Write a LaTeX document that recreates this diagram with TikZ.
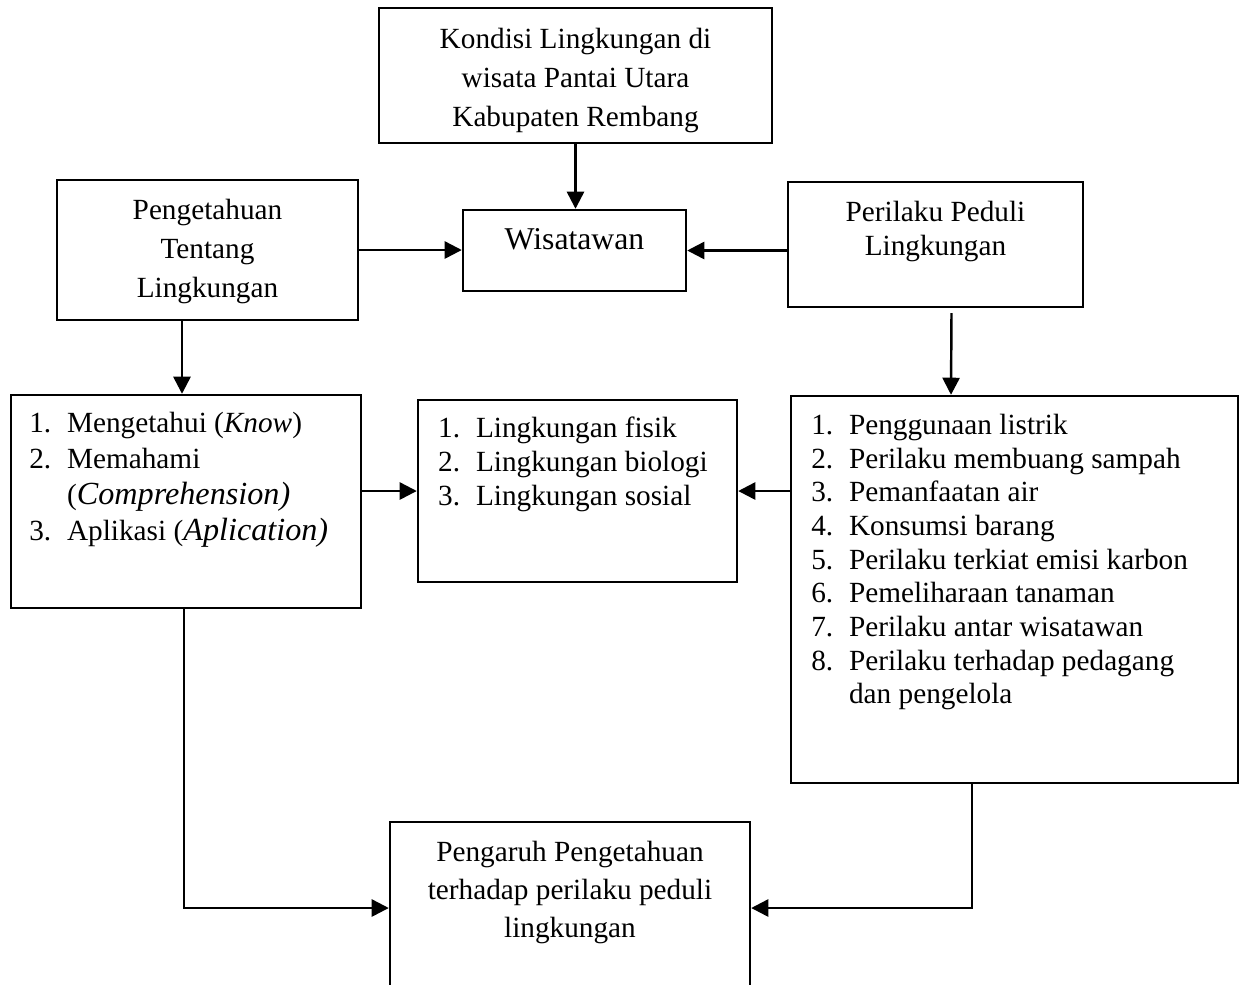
\documentclass[tikz,border=0pt]{standalone}
\usepackage{fontspec}
\setmainfont{Liberation Serif}
\usetikzlibrary{positioning,arrows.meta}

\newcommand{\numline}[2]{\makebox[15.5pt][l]{#1}#2}
\newcommand{\bigit}[1]{{\fontsize{13.2}{13.8}\selectfont\itshape #1}}

\tikzset{
    box/.style 2 args={draw, line width=1pt, inner sep=0pt,
        minimum width=#1*0.41pt, minimum height=#2*0.41pt},
    txt/.style={inner sep=0pt, align=center, font={\fontsize{12}{16}\selectfont}},
    lst/.style={inner sep=0pt, align=left, anchor=north west, font={\fontsize{12}{13.8}\selectfont}},
    arr/.style={line width=1pt, -{Triangle[length=7pt, width=7pt]}}
}

\begin{document}
\begin{tikzpicture}[x=0.41pt, y=-0.41pt]
    \useasboundingbox (0,0) rectangle (1239,984);
    \clip (0,0) rectangle (1239,984);

    % Boxes
    \node[box={393}{135}] (kondisi) at (575.5,75.5) {};
    \node[box={223}{81}] (wisatawan) at (574.5,250.5) {};
    \node[box={301}{140}] (pengetahuan) at (207.5,250) {};
    \node[box={295}{125}] (perilaku) at (935.5,244.5) {};
    \node[box={350}{213}] (indikator) at (186,501.5) {};
    \node[box={319}{182}] (lingkungan) at (577.5,491) {};
    \node[box={447}{387}] (bentuk) at (1014.5,589.5) {};
    \node[box={360}{172}] (pengaruh) at (570,908) {};

    % Texts
    \node[txt, below=8.6pt of kondisi.north] (kondisi-t)
        {Kondisi Lingkungan di\\wisata Pantai Utara\\Kabupaten Rembang};
    \node[txt, font={\fontsize{13}{16}\selectfont}, below=8pt of wisatawan.north] (wisatawan-t)
        {Wisatawan};
    \node[txt, below=8pt of pengetahuan.north] (pengetahuan-t)
        {Pengetahuan\\Tentang\\Lingkungan};
    \node[txt, font={\fontsize{12}{14}\selectfont}, below=8pt of perilaku.north] (perilaku-t)
        {Perilaku Peduli\\Lingkungan};
    \node[txt, font={\fontsize{12}{15.6}\selectfont}, below=8pt of pengaruh.north] (pengaruh-t)
        {Pengaruh Pengetahuan\\terhadap perilaku peduli\\lingkungan};

    % Lists
    \node[lst, font={\fontsize{12}{14.8}\selectfont}, below right=7.4pt and 7.8pt of indikator.north west] (indikator-t)
        {\numline{1.}{Mengetahui (\textit{Know})}\\
         \numline{2.}{Memahami}\\
         \numline{}{(\bigit{Comprehension)}}\\
         \numline{3.}{Aplikasi (\bigit{Aplication)}}};
    \node[lst, below right=7.4pt and 8.6pt of lingkungan.north west] (lingkungan-t)
        {\numline{1.}{Lingkungan fisik}\\
         \numline{2.}{Lingkungan biologi}\\
         \numline{3.}{Lingkungan sosial}};
    \node[lst, below right=7.8pt and 8.6pt of bentuk.north west] (bentuk-t)
        {\numline{1.}{Penggunaan listrik}\\
         \numline{2.}{Perilaku membuang sampah}\\
         \numline{3.}{Pemanfaatan air}\\
         \numline{4.}{Konsumsi barang}\\
         \numline{5.}{Perilaku terkiat emisi karbon}\\
         \numline{6.}{Pemeliharaan tanaman}\\
         \numline{7.}{Perilaku antar wisatawan}\\
         \numline{8.}{Perilaku terhadap pedagang}\\
         \numline{}{dan pengelola}};

    % Arrows
    \draw[arr] (kondisi.south) -- (kondisi.south |- wisatawan.north);
    \draw[arr] (pengetahuan.east) -- (pengetahuan.east -| wisatawan.west);
    \draw[arr] (wisatawan.east -| perilaku.west) -- (wisatawan.east);
    \draw[arr] ([shift={(-25.5,0)}]pengetahuan.south) -- ([shift={(-4,0)}]indikator.north);
    \draw[arr] ([shift={(16,5)}]perilaku.south) -- ([shift={(-63.5,0)}]bentuk.north);
    \draw[arr] (indikator.east |- lingkungan.west) -- (lingkungan.west);
    \draw[arr] (bentuk.west |- lingkungan.east) -- (lingkungan.east);
    \draw[arr] ([shift={(-2,0)}]indikator.south) |- (pengaruh.west);
    \draw[arr] ([shift={(-42.5,0)}]bentuk.south) |- (pengaruh.east);
\end{tikzpicture}
\end{document}
